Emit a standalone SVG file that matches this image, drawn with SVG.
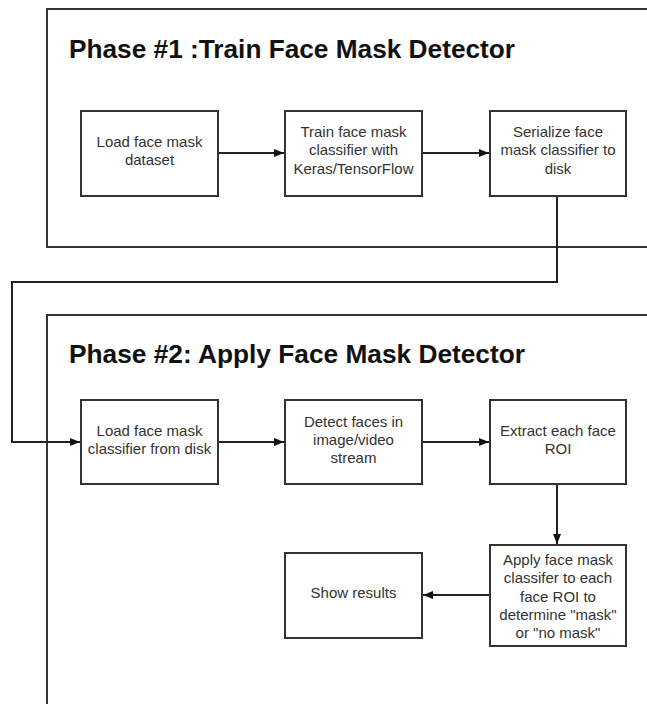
<svg xmlns="http://www.w3.org/2000/svg" width="647" height="704" viewBox="0 0 647 704">
<defs>
<marker id="arr" viewBox="0 0 10 10" refX="10" refY="5" markerWidth="10" markerHeight="10" markerUnits="userSpaceOnUse" orient="auto">
<path d="M0,1 L10,5 L0,9 Z" fill="#111"/>
</marker>
<style>
.frame{fill:none;stroke:#333;stroke-width:2}
.box{fill:#fff;stroke:#333;stroke-width:2}
.title{font-family:"Liberation Sans",Arial,sans-serif;font-weight:bold;font-size:26px;fill:#111}
.lbl{font-family:"Liberation Sans",Arial,sans-serif;font-size:15px;fill:#333;text-anchor:middle}
.con{fill:none;stroke:#222;stroke-width:2}
</style>
</defs>
<rect width="647" height="704" fill="#fff"/>
<g id="phase1">
<rect class="frame" x="47" y="9" width="620" height="238"/>
<text class="title" x="69" y="58" textLength="446" lengthAdjust="spacingAndGlyphs">Phase #1 :Train Face Mask Detector</text>
</g>
<g id="phase2">
<rect class="frame" x="47" y="315" width="620" height="420"/>
<text class="title" x="69" y="363" textLength="456" lengthAdjust="spacingAndGlyphs">Phase #2: Apply Face Mask Detector</text>
</g>
<g id="connectors">
<path class="con" d="M218,153 H284" marker-end="url(#arr)"/>
<path class="con" d="M422,153 H489" marker-end="url(#arr)"/>
<path class="con" d="M557,196 V282 H12 V442 H80" marker-end="url(#arr)"/>
<path class="con" d="M218,442 H284" marker-end="url(#arr)"/>
<path class="con" d="M422,442 H489" marker-end="url(#arr)"/>
<path class="con" d="M557,484 V544" marker-end="url(#arr)"/>
<path class="con" d="M489,595 H423" marker-end="url(#arr)"/>
</g>
<g id="load-dataset">
<rect class="box" x="81" y="111" width="137" height="85"/>
<text class="lbl" x="149.5" y="147">Load face mask</text>
<text class="lbl" x="149.5" y="165">dataset</text>
</g>
<g id="train">
<rect class="box" x="285" y="111" width="137" height="85"/>
<text class="lbl" x="353.5" y="137">Train face mask</text>
<text class="lbl" x="353.5" y="155">classifier with</text>
<text class="lbl" x="353.5" y="174">Keras/TensorFlow</text>
</g>
<g id="serialize">
<rect class="box" x="490" y="111" width="136" height="85"/>
<text class="lbl" x="558" y="137">Serialize face</text>
<text class="lbl" x="558" y="155">mask classifier to</text>
<text class="lbl" x="558" y="174">disk</text>
</g>
<g id="load-classifier">
<rect class="box" x="81" y="400" width="137" height="84"/>
<text class="lbl" x="149.5" y="436">Load face mask</text>
<text class="lbl" x="149.5" y="454">classifier from disk</text>
</g>
<g id="detect">
<rect class="box" x="285" y="400" width="137" height="84"/>
<text class="lbl" x="353.5" y="427">Detect faces in</text>
<text class="lbl" x="353.5" y="445">image/video</text>
<text class="lbl" x="353.5" y="463">stream</text>
</g>
<g id="extract">
<rect class="box" x="490" y="400" width="136" height="84"/>
<text class="lbl" x="558" y="436">Extract each face</text>
<text class="lbl" x="558" y="454">ROI</text>
</g>
<g id="apply">
<rect class="box" x="490" y="545" width="136" height="101"/>
<text class="lbl" x="558" y="565">Apply face mask</text>
<text class="lbl" x="558" y="583">classifer to each</text>
<text class="lbl" x="558" y="602">face ROI to</text>
<text class="lbl" x="558" y="620">determine "mask"</text>
<text class="lbl" x="558" y="638">or "no mask"</text>
</g>
<g id="show">
<rect class="box" x="285" y="553" width="137" height="85"/>
<text class="lbl" x="353.5" y="598">Show results</text>
</g>
</svg>
